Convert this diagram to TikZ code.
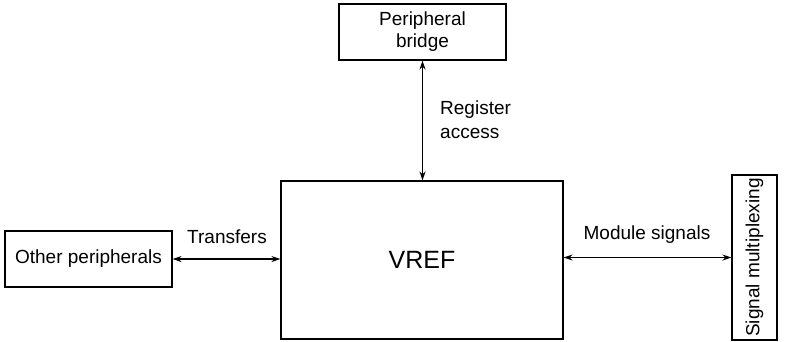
\documentclass[tikz,border=0pt]{standalone}
\usepackage{fontspec}
\setmainfont{Liberation Sans}
\usetikzlibrary{arrows.meta}

\tikzset{
    block/.style={draw, line width=1.1pt, inner sep=2pt, align=center,
        font=\fontsize{19}{22}\selectfont},
    label/.style={inner sep=0pt, font=\fontsize{19}{24}\selectfont},
    link/.style={<->, line width=1.1pt, >={Stealth[length=9pt,width=6pt]}},
}

\begin{document}
\begin{tikzpicture}[x=1pt, y=-1pt]
    \useasboundingbox (0,0) rectangle (787,341);
    % the module in the middle
    \node[block, minimum width=282pt, minimum height=158pt,
        font=\fontsize{25}{30}\selectfont] (vref) at (422,260) {VREF};
    % its neighbours
    \node[block, minimum width=167pt, minimum height=56pt] (bridge) at (422.5,32) {Peripheral\\bridge};
    \node[block, minimum width=167pt, minimum height=56pt] (other) at (88.5,259) {Other peripherals};
    % rotated: its north side faces the module
    \node[block, rotate=90, minimum width=165pt, minimum height=45pt] (mux) at (754.5,257.5) {Signal multiplexing};
    % connections
    \draw[link] (bridge.south) -- (bridge.south |- vref.north);
    \draw[link] (other.east) -- (other.east -| vref.west);
    \draw[link] (vref.east |- mux.north) -- (mux.north);
    % labels on the connections
    \node[label, align=left, anchor=west] (regacc) at (440,120) {Register\\access};
    \node[label] (xfer) at (227,237) {Transfers};
    \node[label] (modsig) at (647,235) {Module signals};
\end{tikzpicture}
\end{document}
